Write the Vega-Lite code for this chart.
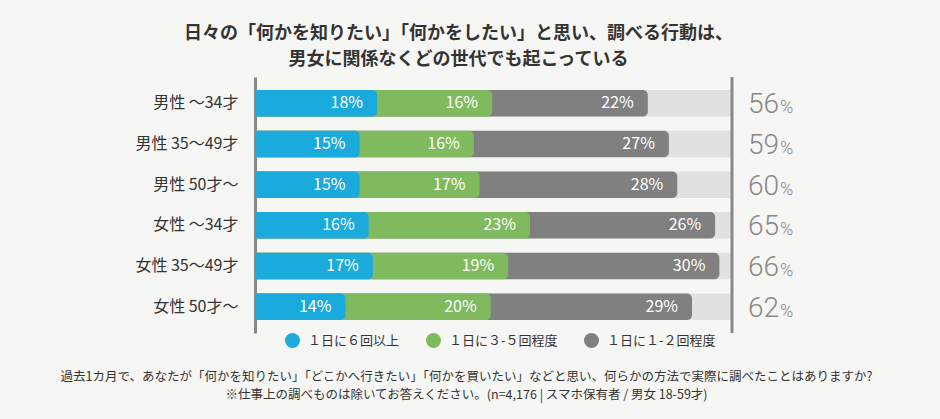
{
  "$schema": "https://vega.github.io/schema/vega-lite/v6.json",
  "width": 477,
  "height": 256,
  "autosize": {"type": "none"},
  "padding": {"left": 255, "top": 77, "right": 208, "bottom": 86},
  "background": "#F6F6F4",
  "config": {"view": {"stroke": null}, "font": "Noto Sans CJK JP"},
  "title": {
    "text": ["日々の「何かを知りたい」「何かをしたい」と思い、調べる行動は、", "男女に関係なくどの世代でも起こっている"],
    "fontSize": 18,
    "fontWeight": "bold",
    "color": "#333333",
    "font": "Noto Sans CJK JP",
    "anchor": "middle",
    "frame": "group",
    "dx": -35,
    "offset": 7,
    "lineHeight": 26
  },
  "datasets": {
    "bars": [
      {"group": "男性 ～34才", "cat": "１日に６回以上", "value": 17.4, "pct": 18},
      {"group": "男性 ～34才", "cat": "１日に３-５回程度", "value": 16.4, "pct": 16},
      {"group": "男性 ～34才", "cat": "１日に１-２回程度", "value": 22.2, "pct": 22},
      {"group": "男性 35～49才", "cat": "１日に６回以上", "value": 14.9, "pct": 15},
      {"group": "男性 35～49才", "cat": "１日に３-５回程度", "value": 16.3, "pct": 16},
      {"group": "男性 35～49才", "cat": "１日に１-２回程度", "value": 27.8, "pct": 27},
      {"group": "男性 50才～", "cat": "１日に６回以上", "value": 14.9, "pct": 15},
      {"group": "男性 50才～", "cat": "１日に３-５回程度", "value": 17.1, "pct": 17},
      {"group": "男性 50才～", "cat": "１日に１-２回程度", "value": 28.2, "pct": 28},
      {"group": "女性 ～34才", "cat": "１日に６回以上", "value": 16.2, "pct": 16},
      {"group": "女性 ～34才", "cat": "１日に３-５回程度", "value": 23.0, "pct": 23},
      {"group": "女性 ～34才", "cat": "１日に１-２回程度", "value": 26.4, "pct": 26},
      {"group": "女性 35～49才", "cat": "１日に６回以上", "value": 16.8, "pct": 17},
      {"group": "女性 35～49才", "cat": "１日に３-５回程度", "value": 19.3, "pct": 19},
      {"group": "女性 35～49才", "cat": "１日に１-２回程度", "value": 30.1, "pct": 30},
      {"group": "女性 50才～", "cat": "１日に６回以上", "value": 12.9, "pct": 14},
      {"group": "女性 50才～", "cat": "１日に３-５回程度", "value": 20.7, "pct": 20},
      {"group": "女性 50才～", "cat": "１日に１-２回程度", "value": 28.7, "pct": 29}
    ],
    "totals": [
      {"group": "男性 ～34才", "total": 56},
      {"group": "男性 35～49才", "total": 59},
      {"group": "男性 50才～", "total": 60},
      {"group": "女性 ～34才", "total": 65},
      {"group": "女性 35～49才", "total": 66},
      {"group": "女性 50才～", "total": 62}
    ]
  },
  "layer": [
    {
      "data": {"name": "totals"},
      "mark": {"type": "bar", "color": "#E1E1E1"},
      "encoding": {
        "y": {"field": "group", "type": "nominal", "sort": ["男性 ～34才", "男性 35～49才", "男性 50才～", "女性 ～34才", "女性 35～49才", "女性 50才～"], "scale": {"paddingInner": 0.35, "paddingOuter": 0.32},
          "axis": {"title": null, "domain": true, "domainColor": "#888888", "domainWidth": 3, "ticks": false, "labelPadding": 17, "labelFontSize": 16, "labelColor": "#333333", "labelFont": "Noto Sans CJK JP"}},
        "x": {"datum": 68, "type": "quantitative", "scale": {"domain": [0, 68], "nice": false},
          "axis": {"orient": "bottom", "domain": false, "ticks": false, "labels": false, "grid": false,
            "title": ["過去1カ月で、あなたが「何かを知りたい」「どこかへ行きたい」「何かを買いたい」などと思い、何らかの方法で実際に調べたことはありますか?", "※仕事上の調べものは除いてお答えください。(n=4,176 | スマホ保有者 / 男女 18-59才)"],
            "titleFontSize": 12.5, "titleFontWeight": "normal", "titleColor": "#333333", "titleFont": "Noto Sans CJK JP",
            "titleX": 211, "titleY": 37, "titleAlign": "center", "titleBaseline": "top", "titleLineHeight": 18}}
      }
    },
    {
      "data": {"name": "bars"},
      "transform": [
        {"stack": "value", "groupby": ["group"], "sort": [{"field": "cat", "order": "descending"}], "as": ["v0", "v1"]}
      ],
      "mark": {"type": "bar", "cornerRadiusEnd": 5},
      "encoding": {
        "y": {"field": "group", "type": "nominal", "sort": ["男性 ～34才", "男性 35～49才", "男性 50才～", "女性 ～34才", "女性 35～49才", "女性 50才～"]},
        "x": {"field": "v1", "type": "quantitative", "stack": null},
        "color": {"field": "cat", "type": "nominal",
          "scale": {"domain": ["１日に６回以上", "１日に３-５回程度", "１日に１-２回程度"], "range": ["#1BAADC", "#80BA5E", "#808080"]},
          "legend": {"orient": "none", "legendX": 30, "legendY": 256, "direction": "horizontal", "title": null,
            "symbolType": "circle", "symbolSize": 225, "symbolOpacity": 1, "symbolStrokeWidth": 0,
            "labelFontSize": 13, "labelColor": "#333333", "labelFont": "Noto Sans CJK JP", "labelOffset": 8, "columnPadding": 26}},
        "order": {"field": "cat", "type": "nominal", "sort": "ascending"}
      }
    },
    {
      "data": {"name": "bars"},
      "transform": [
        {"stack": "value", "groupby": ["group"], "sort": [{"field": "cat", "order": "descending"}], "as": ["v0", "v1"]},
        {"calculate": "datum.pct + '%'", "as": "label"}
      ],
      "mark": {"type": "text", "align": "right", "baseline": "middle", "dx": -14, "color": "white", "fontSize": 16, "font": "Liberation Sans Narrow, Noto Sans CJK JP"},
      "encoding": {
        "y": {"field": "group", "type": "nominal", "sort": ["男性 ～34才", "男性 35～49才", "男性 50才～", "女性 ～34才", "女性 35～49才", "女性 50才～"]},
        "x": {"field": "v1", "type": "quantitative", "stack": null},
        "text": {"field": "label", "type": "nominal"}
      }
    },
    {
      "data": {"values": [{}]},
      "mark": {"type": "rule", "color": "#888888", "strokeWidth": 3},
      "encoding": {"x": {"datum": 68, "type": "quantitative"}}
    },
    {
      "data": {"name": "totals"},
      "mark": {"type": "text", "align": "left", "baseline": "alphabetic", "dx": 16, "dy": 10, "fontSize": 28, "fontWeight": 300, "font": "Roboto", "color": "#888888"},
      "encoding": {
        "y": {"field": "group", "type": "nominal", "sort": ["男性 ～34才", "男性 35～49才", "男性 50才～", "女性 ～34才", "女性 35～49才", "女性 50才～"]},
        "x": {"datum": 68, "type": "quantitative"},
        "text": {"field": "total", "type": "quantitative"}
      }
    },
    {
      "data": {"name": "totals"},
      "mark": {"type": "text", "align": "left", "baseline": "alphabetic", "dx": 48, "dy": 10, "fontSize": 18, "fontWeight": 300, "font": "Roboto", "color": "#888888", "text": "%"},
      "encoding": {
        "y": {"field": "group", "type": "nominal", "sort": ["男性 ～34才", "男性 35～49才", "男性 50才～", "女性 ～34才", "女性 35～49才", "女性 50才～"]},
        "x": {"datum": 68, "type": "quantitative"}
      }
    }
  ]
}
